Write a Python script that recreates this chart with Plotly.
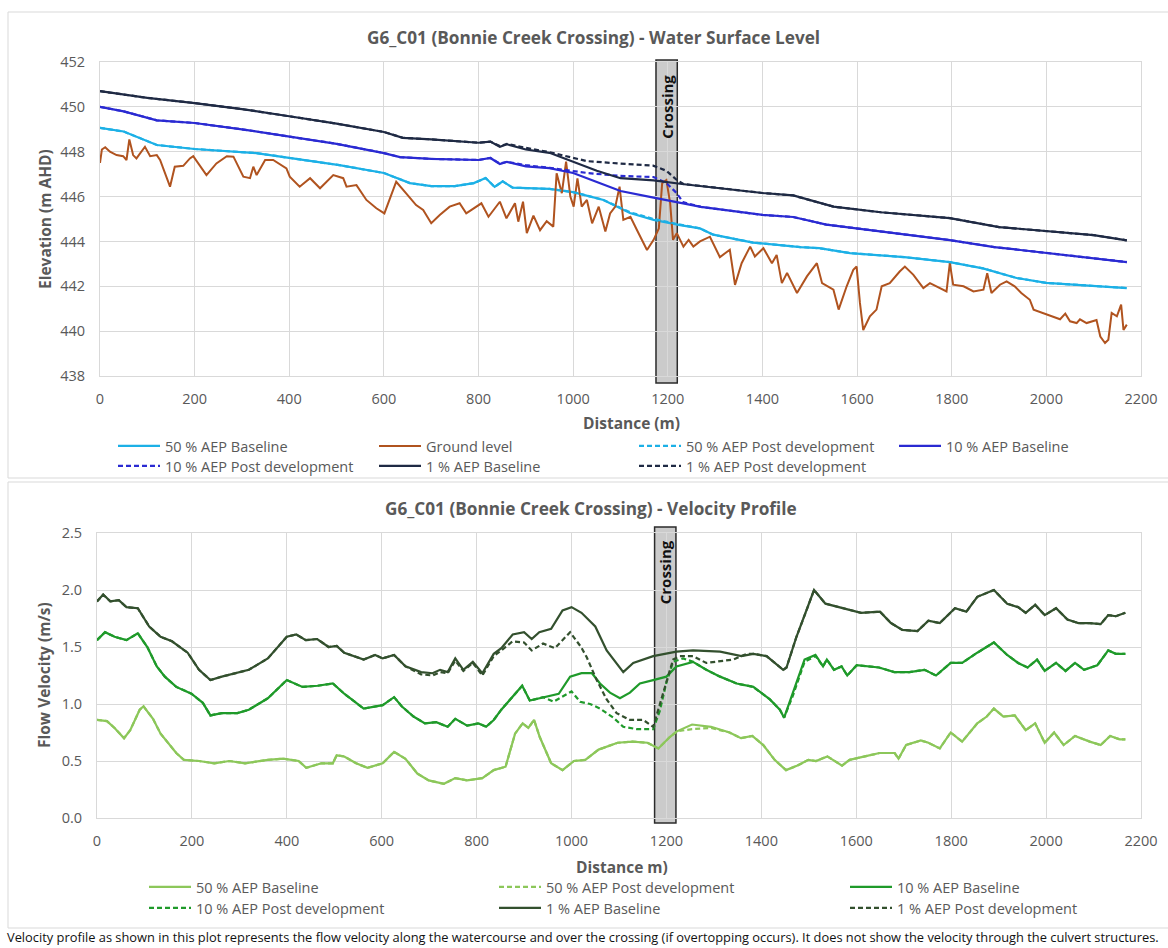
import plotly.graph_objects as go

W, H = 1168, 948
FONT = "Open Sans"
GRAY = "#595959"
GRID = "#d9d9d9"

# ---------------- Water surface level (top chart) ----------------
x_50b = [0, 50, 120, 200, 330, 400, 506, 600, 655, 700, 750, 790, 815, 834, 851, 872, 950, 1000, 1064, 1120,
         1170, 1226, 1268, 1296, 1380, 1480, 1520, 1585, 1700, 1796, 1866, 1937, 2000, 2170]
y_50b = [449.06, 448.90, 448.30, 448.12, 447.94, 447.72, 447.40, 447.05, 446.60, 446.47, 446.47, 446.60, 446.83,
         446.43, 446.68, 446.40, 446.34, 446.20, 445.85, 445.27, 444.96, 444.73, 444.58, 444.30, 443.95, 443.75,
         443.70, 443.48, 443.30, 443.08, 442.80, 442.37, 442.15, 441.92]
x_50p = x_50b
y_50p = [449.06, 448.90, 448.30, 448.12, 447.94, 447.72, 447.40, 447.05, 446.60, 446.47, 446.47, 446.60, 446.83,
         446.43, 446.68, 446.40, 446.34, 446.20, 445.85, 445.30, 445.00, 444.75, 444.58, 444.30, 443.95, 443.75,
         443.70, 443.48, 443.30, 443.08, 442.80, 442.37, 442.15, 441.92]

x_10b = [0, 50, 120, 200, 300, 400, 500, 600, 634, 700, 800, 825, 845, 860, 900, 950, 1000, 1050, 1100, 1170,
         1230, 1270, 1400, 1465, 1535, 1650, 1796, 1890, 2000, 2100, 2170]
y_10b = [450.00, 449.80, 449.40, 449.28, 449.00, 448.66, 448.35, 447.94, 447.76, 447.68, 447.63, 447.72, 447.45,
         447.55, 447.35, 447.27, 447.05, 446.65, 446.25, 445.95, 445.71, 445.54, 445.18, 445.09, 444.75, 444.45,
         444.06, 443.75, 443.48, 443.25, 443.08]
x_10p = [0, 50, 120, 200, 300, 400, 500, 600, 634, 700, 800, 825, 845, 860, 900, 950, 1000, 1030, 1100, 1170,
         1197, 1219, 1232, 1270, 1400, 1465, 1535, 1650, 1796, 1890, 2000, 2100, 2170]
y_10p = [450.00, 449.80, 449.40, 449.28, 449.00, 448.66, 448.35, 447.94, 447.76, 447.68, 447.63, 447.72, 447.47,
         447.55, 447.40, 447.28, 447.15, 447.05, 446.92, 446.87, 446.60, 446.15, 445.75, 445.54, 445.18, 445.09,
         444.75, 444.45, 444.06, 443.75, 443.48, 443.25, 443.08]

x_1b = [0, 50, 100, 200, 300, 400, 500, 600, 640, 700, 800, 825, 845, 860, 900, 950, 1000, 1050, 1100, 1170,
        1230, 1300, 1400, 1465, 1550, 1650, 1796, 1900, 2000, 2100, 2170]
y_1b = [450.70, 450.55, 450.40, 450.17, 449.90, 449.58, 449.25, 448.88, 448.62, 448.55, 448.40, 448.45, 448.22,
        448.33, 448.10, 447.95, 447.55, 447.15, 446.82, 446.72, 446.56, 446.40, 446.16, 446.05, 445.55, 445.30,
        445.04, 444.64, 444.46, 444.28, 444.05]
x_1p = [0, 50, 100, 200, 300, 400, 500, 600, 640, 700, 800, 825, 845, 860, 900, 950, 1000, 1029, 1094, 1169,
        1197, 1219, 1233, 1300, 1400, 1465, 1550, 1650, 1796, 1900, 2000, 2100, 2170]
y_1p = [450.70, 450.55, 450.40, 450.17, 449.90, 449.58, 449.25, 448.88, 448.62, 448.55, 448.40, 448.45, 448.25,
        448.35, 448.17, 447.98, 447.72, 447.58, 447.48, 447.38, 447.15, 446.74, 446.56, 446.40, 446.16, 446.05,
        445.55, 445.30, 445.04, 444.64, 444.46, 444.28, 444.05]

x_ground = [0, 4, 11, 21, 35, 49, 56, 62, 70, 77, 95, 106, 120, 127, 148, 158, 176, 190, 197, 225, 246, 268, 282,
            303, 317, 324, 331, 349, 366, 384, 394, 401, 422, 444, 465, 493, 514, 521, 542, 563, 584, 601, 626,
            647, 668, 683, 700, 718, 739, 760, 774, 806, 821, 845, 859, 877, 884, 894, 902, 916, 930, 944, 958,
            965, 976, 985, 994, 1001, 1009, 1018, 1029, 1040, 1054, 1068, 1078, 1089, 1098, 1106, 1121, 1135,
            1156, 1170, 1181, 1188, 1197, 1205, 1211, 1219, 1233, 1244, 1254, 1268, 1289, 1310, 1331, 1342, 1356,
            1374, 1384, 1402, 1420, 1430, 1441, 1452, 1473, 1494, 1515, 1526, 1550, 1561, 1578, 1592, 1599, 1606,
            1613, 1627, 1641, 1652, 1669, 1690, 1701, 1719, 1740, 1754, 1775, 1789, 1796, 1803, 1825, 1846, 1867,
            1875, 1884, 1902, 1916, 1933, 1947, 1965, 1973, 2001, 2029, 2040, 2050, 2064, 2071, 2085, 2106, 2114,
            2124, 2131, 2138, 2149, 2158, 2163, 2170]
y_ground = [447.50, 448.10, 448.20, 448.00, 447.85, 447.80, 447.63, 448.55, 447.85, 447.70, 448.22, 447.80, 447.85,
            447.63, 446.44, 447.33, 447.37, 447.70, 447.80, 446.96, 447.48, 447.80, 447.78, 446.89, 446.82, 447.33,
            446.96, 447.63, 447.63, 447.40, 447.26, 446.89, 446.44, 446.82, 446.37, 446.96, 446.82, 446.44, 446.51,
            445.85, 445.48, 445.25, 446.66, 446.14, 445.62, 445.40, 444.81, 445.18, 445.55, 445.70, 445.25, 445.70,
            445.10, 445.77, 445.03, 445.70, 444.88, 445.77, 444.37, 445.15, 444.50, 444.90, 444.66, 447.04, 446.15,
            447.56, 446.00, 445.55, 446.81, 445.55, 445.85, 444.81, 445.55, 444.44, 445.25, 445.55, 446.44, 444.96,
            445.10, 444.50, 443.62, 444.07, 444.58, 446.59, 446.74, 445.70, 444.07, 444.37, 443.77, 444.07, 443.77,
            444.00, 444.21, 443.30, 443.63, 442.06, 443.03, 443.77, 443.33, 443.70, 443.03, 443.40, 442.14, 442.60,
            441.70, 442.44, 443.03, 442.14, 441.85, 440.96, 442.00, 442.73, 442.88, 441.26, 440.05, 440.66, 440.96,
            442.00, 442.14, 442.66, 442.88, 442.51, 441.92, 442.14, 441.92, 441.77, 443.03, 442.07, 442.00, 441.77,
            441.85, 442.58, 441.70, 442.07, 442.22, 442.00, 441.70, 441.40, 440.96, 440.73, 440.53, 440.78, 440.44,
            440.36, 440.53, 440.36, 440.50, 439.76, 439.47, 439.62, 440.81, 440.66, 441.18, 440.05, 440.29]

# ---------------- Velocity profile (bottom chart) ----------------
x_v50b = [0, 21, 37, 57, 70, 90, 98, 118, 134, 150, 167, 183, 215, 247, 279, 312, 360, 392, 425, 441,
          473, 497, 505, 521, 546, 570, 602, 626, 650, 675, 699, 731, 755, 780, 812, 836, 861, 881, 897, 909,
          921, 933, 957, 981, 1005, 1029, 1057, 1097, 1128, 1160, 1183, 1207, 1222, 1254, 1294, 1333, 1357, 1381,
          1404, 1428, 1452, 1476, 1499, 1515, 1539, 1570, 1586, 1618, 1649, 1681, 1689, 1705, 1736, 1752, 1776,
          1799, 1823, 1855, 1875, 1890, 1910, 1934, 1957, 1977, 1997, 2017, 2037, 2061, 2092, 2115, 2135, 2155, 2167]
y_v50b = [0.86, 0.85, 0.79, 0.70, 0.77, 0.95, 0.98, 0.87, 0.74, 0.66, 0.57, 0.51, 0.50, 0.48, 0.50, 0.48, 0.51,
          0.52, 0.50, 0.44, 0.48, 0.48, 0.55, 0.54, 0.48, 0.44, 0.48, 0.58, 0.52, 0.39, 0.33, 0.30, 0.35, 0.33,
          0.35, 0.42, 0.45, 0.74, 0.83, 0.79, 0.86, 0.71, 0.48, 0.42, 0.50, 0.51, 0.60, 0.66, 0.67, 0.66, 0.61,
          0.71, 0.76, 0.82, 0.80, 0.75, 0.70, 0.72, 0.64, 0.51, 0.42, 0.46, 0.51, 0.50, 0.54, 0.46, 0.51, 0.54,
          0.57, 0.57, 0.52, 0.64, 0.68, 0.66, 0.61, 0.75, 0.67, 0.83, 0.89, 0.96, 0.89, 0.90, 0.77, 0.83, 0.66,
          0.75, 0.64, 0.72, 0.67, 0.64, 0.72, 0.69, 0.69]
x_v50p = x_v50b
y_v50p = [0.86, 0.85, 0.79, 0.70, 0.77, 0.95, 0.98, 0.87, 0.74, 0.66, 0.57, 0.51, 0.50, 0.48, 0.50, 0.48, 0.51,
          0.52, 0.50, 0.44, 0.48, 0.48, 0.55, 0.54, 0.48, 0.44, 0.48, 0.58, 0.52, 0.39, 0.33, 0.30, 0.35, 0.33,
          0.35, 0.42, 0.45, 0.74, 0.83, 0.79, 0.86, 0.71, 0.48, 0.42, 0.50, 0.51, 0.60, 0.66, 0.67, 0.66, 0.61,
          0.71, 0.76, 0.78, 0.79, 0.75, 0.70, 0.72, 0.64, 0.51, 0.42, 0.46, 0.51, 0.50, 0.54, 0.46, 0.51, 0.54,
          0.57, 0.57, 0.52, 0.64, 0.68, 0.66, 0.61, 0.75, 0.67, 0.83, 0.89, 0.96, 0.89, 0.90, 0.77, 0.83, 0.66,
          0.75, 0.64, 0.72, 0.67, 0.64, 0.72, 0.69, 0.69]

x_v10b = [0, 17, 37, 62, 86, 106, 126, 143, 167, 199, 223, 239, 263, 296, 320, 360, 400, 433, 465, 497,
          521, 562, 602, 626, 642, 667, 691, 715, 739, 755, 780, 804, 820, 836, 852, 876, 896, 912, 940, 973,
          997, 1021, 1043, 1060, 1081, 1102, 1123, 1144, 1172, 1200, 1221, 1256, 1284, 1313, 1348, 1383, 1418,
          1439, 1448, 1467, 1491, 1514, 1530, 1538, 1553, 1569, 1581, 1601, 1648, 1680, 1712, 1744, 1768, 1799,
          1823, 1855, 1890, 1918, 1941, 1961, 1981, 1997, 2021, 2041, 2061, 2080, 2108, 2131, 2147, 2167]
y_v10b = [1.56, 1.63, 1.59, 1.56, 1.62, 1.50, 1.33, 1.24, 1.15, 1.09,
          1.01, 0.90, 0.92, 0.92, 0.95, 1.05, 1.21, 1.15, 1.16, 1.18,
          1.09, 0.96, 0.99, 1.06, 0.98, 0.89, 0.83, 0.84, 0.80, 0.87,
          0.81, 0.83, 0.80, 0.86, 0.95, 1.06, 1.16, 1.03, 1.06, 1.09,
          1.24, 1.27, 1.27, 1.18, 1.10, 1.05, 1.10, 1.18, 1.21, 1.24,
          1.33, 1.37, 1.30, 1.24, 1.18, 1.15, 1.04, 0.95, 0.88, 1.10,
          1.39, 1.43, 1.33, 1.39, 1.30, 1.33, 1.25, 1.34, 1.32, 1.28,
          1.28, 1.30, 1.25, 1.36, 1.36, 1.45, 1.54, 1.43, 1.36, 1.32,
          1.39, 1.29, 1.36, 1.29, 1.36, 1.30, 1.34, 1.47, 1.44, 1.44]
x_v10p = [0, 17, 37, 62, 86, 106, 126, 143, 167, 199, 223, 239, 263, 296, 320, 360, 400, 433, 465, 497,
          521, 562, 602, 626, 642, 667, 691, 715, 739, 755, 780, 804, 820, 836, 852, 876, 896, 912, 940, 962,
          1000, 1018, 1039, 1060, 1088, 1109, 1137, 1172, 1186, 1200, 1214, 1235, 1256, 1284, 1313, 1348, 1383,
          1418, 1439, 1448, 1467, 1491, 1514, 1530, 1538, 1553, 1569, 1581, 1601, 1648, 1680, 1712, 1744, 1768,
          1799, 1823, 1855, 1890, 1918, 1941, 1961, 1981, 1997, 2021, 2041, 2061, 2080, 2108, 2131, 2147, 2167]
y_v10p = [1.56, 1.63, 1.59, 1.56, 1.62, 1.50, 1.33, 1.24, 1.15, 1.09,
          1.01, 0.90, 0.92, 0.92, 0.95, 1.05, 1.21, 1.15, 1.16, 1.18,
          1.09, 0.96, 0.99, 1.06, 0.98, 0.89, 0.83, 0.84, 0.80, 0.87,
          0.81, 0.83, 0.80, 0.86, 0.95, 1.06, 1.16, 1.03, 1.06,
          1.02, 1.11, 1.02, 1.00, 0.96, 0.88, 0.80, 0.78, 0.78, 0.94,
          1.19, 1.37, 1.40, 1.37, 1.30, 1.24, 1.18, 1.15, 1.04, 0.95,
          0.88, 1.08, 1.37, 1.42, 1.33, 1.39, 1.30, 1.33, 1.25, 1.34,
          1.32, 1.28, 1.28, 1.30, 1.25, 1.36, 1.36, 1.45, 1.54, 1.43,
          1.36, 1.32, 1.39, 1.29, 1.36, 1.29, 1.36, 1.30, 1.34, 1.47,
          1.44, 1.44]

x_v1b = [0, 13, 28, 46, 62, 86, 110, 134, 158, 191, 215, 239, 263, 320, 360, 400, 420, 440, 464, 488,
         505, 521, 562, 586, 602, 626, 650, 683, 707, 723, 739, 755, 772, 792, 812, 836, 852, 876, 900, 916,
         932, 957, 981, 1000, 1021, 1050, 1074, 1095, 1109, 1130, 1172, 1221, 1256, 1313, 1358, 1383, 1411,
         1446, 1453, 1474, 1495, 1511, 1535, 1574, 1610, 1650, 1673, 1697, 1729, 1752, 1776, 1808, 1832, 1855,
         1890, 1918, 1941, 1957, 1977, 1997, 2021, 2045, 2068, 2092, 2115, 2131, 2147, 2167]
y_v1b = [1.90, 1.96, 1.90, 1.91, 1.85, 1.84, 1.68, 1.59, 1.55, 1.45,
         1.30, 1.21, 1.24, 1.30, 1.40, 1.59, 1.61, 1.56, 1.57, 1.50,
         1.51, 1.45, 1.39, 1.43, 1.40, 1.43, 1.33, 1.28, 1.27, 1.30,
         1.28, 1.40, 1.30, 1.37, 1.27, 1.44, 1.49, 1.61, 1.63, 1.57,
         1.63, 1.66, 1.82, 1.85, 1.80, 1.68, 1.47, 1.36, 1.28, 1.36,
         1.42, 1.46, 1.47, 1.46, 1.42, 1.44, 1.42, 1.30, 1.32, 1.59,
         1.82, 2.00, 1.88, 1.84, 1.80, 1.81, 1.71, 1.65, 1.64, 1.73,
         1.71, 1.84, 1.81, 1.94, 2.00, 1.88, 1.85, 1.80, 1.87, 1.78,
         1.84, 1.74, 1.71, 1.71, 1.70, 1.78, 1.77, 1.80]
x_v1p = [0, 13, 28, 46, 62, 86, 110, 134, 158, 191, 215, 239, 263, 320, 360, 400, 420, 440, 464, 488,
         505, 521, 562, 586, 602, 626, 650, 683, 707, 723, 739, 755, 772, 792, 812, 836, 852, 876, 900, 916,
         940, 965, 997, 1020, 1032, 1053, 1074, 1095, 1123, 1151, 1172, 1193, 1214, 1228, 1256, 1284, 1341,
         1369, 1383, 1411, 1446, 1453, 1474, 1495, 1511, 1535, 1574, 1610, 1650, 1673, 1697, 1729, 1752, 1776,
         1808, 1832, 1855, 1890, 1918, 1941, 1957, 1977, 1997, 2021, 2045, 2068, 2092, 2115, 2131, 2147, 2167]
y_v1p = [1.90, 1.96, 1.90, 1.91, 1.85, 1.84, 1.68, 1.59, 1.55, 1.45,
         1.30, 1.21, 1.24, 1.30, 1.40, 1.59, 1.61, 1.56, 1.57, 1.50,
         1.51, 1.45, 1.39, 1.43, 1.40, 1.43, 1.33, 1.26, 1.25, 1.28,
         1.27, 1.38, 1.29, 1.36, 1.25, 1.42, 1.47,
         1.55, 1.54, 1.47, 1.53, 1.49, 1.63, 1.50, 1.41, 1.21, 1.04,
         0.92, 0.86, 0.86, 0.80, 1.10, 1.39, 1.42, 1.42, 1.36, 1.39,
         1.44, 1.44, 1.42, 1.30, 1.32, 1.59,
         1.82, 2.00, 1.88, 1.84, 1.80, 1.81, 1.71, 1.65, 1.64, 1.73,
         1.71, 1.84, 1.81, 1.94, 2.00, 1.88, 1.85, 1.80, 1.87, 1.78,
         1.84, 1.74, 1.71, 1.71, 1.70, 1.78, 1.77, 1.80]

crossing = [1175, 1220]
footnote = ("Velocity profile as shown in this plot represents the flow velocity along the watercourse and over "
            "the crossing (if overtopping occurs). It does not show the velocity through the culvert structures.")

C50, CGR, C10, C1 = "#1cb0e6", "#b0531f", "#2a2ad2", "#1f2a44"
V50, V10, V1 = "#8cc75a", "#1f9a2a", "#33502e"
DASH = "5px,3px"

legfont = dict(family=FONT, size=14.5, color=GRAY)
ITEMW = 42
TEXT_OFF = ITEMW + 10  # legend x -> legend text start (px)
top_cols = [165, 426, 686, 946]
top_rows = [446, 466]
bot_cols = [196, 546, 897]
bot_rows = [887, 908]

fig = go.Figure()
legends = {}
counter = [0]


def add(x, y, name, color, dash=None, top=True, width=2.2, col=0, row=0):
    counter[0] += 1
    key = "legend" if counter[0] == 1 else "legend%d" % counter[0]
    cols, rows = (top_cols, top_rows) if top else (bot_cols, bot_rows)
    legends[key] = dict(x=(cols[col] - TEXT_OFF) / W, xanchor="left", y=1 - rows[row] / H,
                        yanchor="middle", font=legfont, bgcolor="rgba(0,0,0,0)", orientation="v",
                        itemwidth=ITEMW)
    fig.add_trace(go.Scatter(
        x=x, y=y, name=name, mode="lines",
        line=dict(color=color, width=width, dash=dash),
        xaxis="x" if top else "x2", yaxis="y" if top else "y2",
        legend=key, hoverinfo="skip"))


add(x_50b, y_50b, "50 % AEP Baseline", C50, col=0, row=0)
add(x_ground, y_ground, "Ground level", CGR, width=2, col=1, row=0)
add(x_50p, y_50p, "50 % AEP Post development", C50, DASH, col=2, row=0)
add(x_10b, y_10b, "10 % AEP Baseline", C10, col=3, row=0)
add(x_10p, y_10p, "10 % AEP Post development", C10, DASH, col=0, row=1)
add(x_1b, y_1b, "1 % AEP Baseline", C1, col=1, row=1)
add(x_1p, y_1p, "1 % AEP Post development", C1, DASH, col=2, row=1)

add(x_v50b, y_v50b, "50 % AEP Baseline", V50, top=False, col=0, row=0)
add(x_v50p, y_v50p, "50 % AEP Post development", V50, DASH, top=False, col=1, row=0)
add(x_v10b, y_v10b, "10 % AEP Baseline", V10, top=False, col=2, row=0)
add(x_v10p, y_v10p, "10 % AEP Post development", V10, DASH, top=False, col=0, row=1)
add(x_v1b, y_v1b, "1 % AEP Baseline", V1, top=False, col=1, row=1)
add(x_v1p, y_v1p, "1 % AEP Post development", V1, DASH, top=False, col=2, row=1)

tickfont = dict(family=FONT, size=14.5, color=GRAY)
common_x = dict(range=[0, 2200], dtick=200, tick0=0, showgrid=True, gridcolor=GRID, gridwidth=1,
                zeroline=False, showline=True, linecolor=GRID, mirror=True, tickfont=tickfont,
                ticks="outside", ticklen=10, tickcolor="rgba(0,0,0,0)", fixedrange=True)
common_y = dict(showgrid=True, gridcolor=GRID, gridwidth=1, zeroline=False, showline=True,
                linecolor=GRID, mirror=True, tickfont=tickfont, ticks="outside", ticklen=11,
                tickcolor="rgba(0,0,0,0)", fixedrange=True)

fig.update_layout(
    width=W, height=H, margin=dict(l=0, r=0, t=0, b=0, pad=0, autoexpand=False),
    paper_bgcolor="white", plot_bgcolor="rgba(0,0,0,0)", showlegend=True,
    xaxis=dict(domain=[100 / W, 1141 / W], anchor="y", **common_x),
    yaxis=dict(domain=[1 - 376 / H, 1 - 62 / H], range=[438, 452], dtick=2, anchor="x", **common_y),
    xaxis2=dict(domain=[97 / W, 1141 / W], anchor="y2", **common_x),
    yaxis2=dict(domain=[1 - 818 / H, 1 - 533 / H], range=[0, 2.5], dtick=0.5, tickformat=".1f",
                anchor="x2", **common_y),
    **legends,
)

# panel borders
fig.add_shape(type="rect", xref="paper", yref="paper", x0=8 / W, x1=1.01, y0=1 - 478 / H, y1=1 - 12 / H,
              line=dict(color=GRID, width=1), fillcolor="rgba(0,0,0,0)", layer="below")
fig.add_shape(type="rect", xref="paper", yref="paper", x0=8 / W, x1=1.01, y0=1 - 928 / H, y1=1 - 482 / H,
              line=dict(color=GRID, width=1), fillcolor="rgba(0,0,0,0)", layer="below")

# crossing rectangles (x in data units, y in paper so they can overhang the plot area slightly)
for xr, ytop, ybot in [("x", 60, 383), ("x2", 527, 823)]:
    fig.add_shape(type="rect", xref=xr, yref="paper", x0=crossing[0], x1=crossing[1],
                  y0=1 - ybot / H, y1=1 - ytop / H,
                  line=dict(color="#2b2b2b", width=1.5), fillcolor="#cbcbcb", layer="below")

ann = []
cfont = dict(family=FONT, size=15, color="#111111")
ann.append(dict(text="<b>Crossing</b>", x=sum(crossing) / 2, y=1 - 107 / H, xref="x", yref="paper",
                textangle=-90, showarrow=False, font=cfont, xanchor="center", yanchor="middle"))
ann.append(dict(text="<b>Crossing</b>", x=sum(crossing) / 2, y=1 - 572 / H, xref="x2", yref="paper",
                textangle=-90, showarrow=False, font=cfont, xanchor="center", yanchor="middle"))
titlefont = dict(family=FONT, size=17.2, color=GRAY)
ann.append(dict(text="<b>G6_C01 (Bonnie Creek Crossing) - Water Surface Level</b>", x=593 / W, y=1 - 38 / H,
                xref="paper", yref="paper", showarrow=False, font=titlefont, xanchor="center",
                yanchor="middle"))
ann.append(dict(text="<b>G6_C01 (Bonnie Creek Crossing) - Velocity Profile</b>", x=591 / W, y=1 - 508 / H,
                xref="paper", yref="paper", showarrow=False, font=titlefont, xanchor="center",
                yanchor="middle"))
axfont = dict(family=FONT, size=15.5, color=GRAY)
ann.append(dict(text="<b>Elevation (m AHD)</b>", x=45 / W, y=1 - 219 / H, xref="paper", yref="paper",
                textangle=-90, showarrow=False, font=axfont, xanchor="center", yanchor="middle"))
ann.append(dict(text="<b>Flow Velocity (m/s)</b>", x=44 / W, y=1 - 675 / H, xref="paper", yref="paper",
                textangle=-90, showarrow=False, font=axfont, xanchor="center", yanchor="middle"))
ann.append(dict(text="<b>Distance (m)</b>", x=631 / W, y=1 - 423 / H, xref="paper", yref="paper",
                showarrow=False, font=axfont, xanchor="center", yanchor="middle"))
ann.append(dict(text="<b>Distance m)</b>", x=622 / W, y=1 - 867 / H, xref="paper", yref="paper",
                showarrow=False, font=axfont, xanchor="center", yanchor="middle"))
ann.append(dict(text=footnote, x=5 / W, y=1 - 937 / H, xref="paper", yref="paper", xanchor="left",
                yanchor="middle", showarrow=False, font=dict(family=FONT, size=12.85, color="#111111")))
fig.update_layout(annotations=ann)

fig.write_html("out.html", config={"displayModeBar": False},
               post_script="document.body.style.margin='0px';")
